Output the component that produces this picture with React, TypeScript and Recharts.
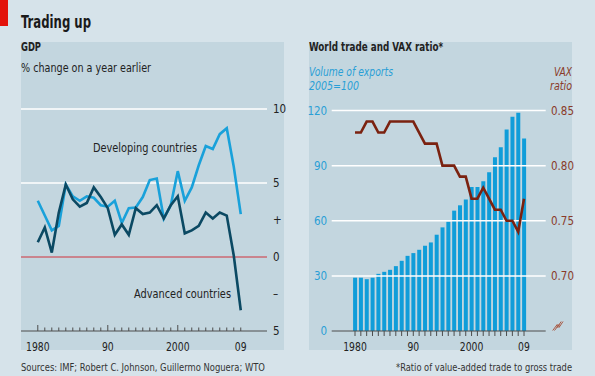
import { ComposedChart, LineChart, Line, Bar, XAxis, YAxis, ReferenceLine } from 'recharts';

// years shared by both panels
const years = [
  1980, 1981, 1982, 1983, 1984, 1985, 1986, 1987, 1988, 1989,
  1990, 1991, 1992, 1993, 1994, 1995, 1996, 1997, 1998, 1999,
  2000, 2001, 2002, 2003, 2004, 2005, 2006, 2007, 2008, 2009,
];

// GDP, % change on a year earlier
const developingGdp = [
  3.8, 2.8, 1.8, 2.1, 4.9, 4.1, 3.8, 4.1, 4.0, 3.5,
  3.4, 3.8, 2.3, 3.3, 3.35, 4.05, 5.2, 5.3, 2.6, 3.5,
  5.8, 3.8, 4.7, 6.2, 7.5, 7.3, 8.3, 8.7, 6.1, 2.9,
];
const advancedGdp = [
  1.0, 2.0, 0.3, 3.0, 4.9, 3.9, 3.4, 3.65, 4.7, 4.05,
  3.3, 1.5, 2.2, 1.5, 3.3, 2.9, 3.0, 3.5, 2.6, 3.5,
  4.1, 1.6, 1.8, 2.1, 3.0, 2.6, 3.0, 2.8, 0.1, -3.6,
];

// world trade: volume of exports (2005=100) and VAX ratio
const exportVolume = [
  29, 29, 28.2, 29, 31.1, 32.2, 33.3, 35.3, 38.2, 40.9,
  42.4, 44.2, 46.4, 48.2, 52.4, 56.4, 59.5, 65.5, 68.4, 71.5,
  78.4, 78.4, 81.5, 86.4, 94.5, 100, 109.6, 116.6, 118.8, 104.7,
];
const vaxRatio = [
  0.83, 0.83, 0.84, 0.84, 0.83, 0.83, 0.84, 0.84, 0.84, 0.84,
  0.84, 0.83, 0.82, 0.82, 0.82, 0.8, 0.8, 0.8, 0.79, 0.79,
  0.77, 0.77, 0.78, 0.77, 0.76, 0.76, 0.75, 0.75, 0.74, 0.77,
];

const gdpTicks = [-5, -2.5, 0, 2.5, 5, 10];
const gdpGridLines = [5, 10];
const exportTicks = [0, 30, 60, 90, 120];
const exportGridLines = [30, 60, 90, 120];
const vaxTicks = [0.65, 0.7, 0.75, 0.8, 0.85];
const yearLabels: Record<number, string> = { 1980: '1980', 1990: '90', 2000: '2000', 2009: '09' };

const gdpData = years.map((year, i) => ({ year, developing: developingGdp[i], advanced: advancedGdp[i] }));
const tradeData = years.map((year, i) => ({ year, exports: exportVolume[i], vax: vaxRatio[i] }));

const FONT = "'Liberation Sans Narrow', 'DejaVu Sans Condensed', Roboto, sans-serif";
const BG = '#d6e3ea';
const PANEL = '#c3d6df';
const LIGHT_BLUE = '#19a1da';
const DARK_BLUE = '#0b4963';
const VAX_RED = '#7b2210';
const AXIS = '#4d4d4d';
const TEXT = '#222';
const EXPORT_TEXT = '#2a9fd6';
const VAX_TEXT = '#8a3a28';

function gdpLabel(v: number) {
  if (v === 2.5) return '+';
  if (v === -2.5) return '–';
  return String(Math.abs(v));
}

const GdpValueTick = (props: any) => {
  const { x, y, payload } = props;
  return (
    <text x={x + 6} y={y + 4} fontSize={11.5} fill={TEXT} fontFamily={FONT}>
      {gdpLabel(payload.value)}
    </text>
  );
};

const YearLabel = ({ x, y, yr }: { x: number; y: number; yr: number }) => {
  const label = yearLabels[yr];
  if (!label) return null;
  return (
    <text
      x={x}
      y={y}
      textAnchor="middle"
      fontSize={11.5}
      fill={TEXT}
      fontFamily={FONT}
      textLength={label.length * 5.9}
      lengthAdjust="spacingAndGlyphs"
    >
      {label}
    </text>
  );
};

const GdpYearTick = (props: any) => {
  const { x, y, payload } = props;
  const yr = payload.value;
  const major = yr % 10 === 0;
  return (
    <g>
      <line x1={x} x2={x} y1={y} y2={y - (major ? 6 : 3.5)} stroke={AXIS} strokeWidth={1} />
      <YearLabel x={x} y={y + 20} yr={yr} />
    </g>
  );
};

const TradeYearTick = (props: any) => {
  const { x, y, payload } = props;
  return (
    <g>
      <line x1={x} x2={x} y1={y} y2={y + 5} stroke={AXIS} strokeWidth={1} />
      <YearLabel x={x} y={y + 20} yr={payload.value} />
    </g>
  );
};

const ExportTick = (props: any) => {
  const { x, y, payload } = props;
  return (
    <text x={x - 4.5} y={y + 4} textAnchor="end" fontSize={11.5} fill={EXPORT_TEXT} fontFamily={FONT}>
      {payload.value}
    </text>
  );
};

const VaxTick = (props: any) => {
  const { x, y, payload } = props;
  if (payload.value === 0.65) {
    // axis break mark in place of the bottom label
    const bx = x + 7;
    const by = y - 0.5;
    return (
      <g stroke="#a85a45" strokeWidth={1} fill="none">
        <path d={`M${bx} ${by} L${bx + 4.5} ${by - 6} L${bx + 4.5} ${by - 3} L${bx + 8.5} ${by - 9}`} />
        <path d={`M${bx + 1.8} ${by} L${bx + 6.3} ${by - 6} L${bx + 6.3} ${by - 3} L${bx + 10.3} ${by - 9}`} />
      </g>
    );
  }
  return (
    <text x={x + 5.3} y={y + 4} fontSize={11.5} fill={VAX_TEXT} fontFamily={FONT}>
      {payload.value.toFixed(2)}
    </text>
  );
};

const Label = ({ x, y, w, children, ...rest }: any) => (
  <text x={x} y={y} textLength={w} lengthAdjust="spacingAndGlyphs" fontFamily={FONT} {...rest}>
    {children}
  </text>
);

export default function App() {
  return (
    <div style={{ position: 'absolute', left: 0, top: 0, width: 595, height: 376, background: BG, overflow: 'hidden' }}>
      <svg width={595} height={376} style={{ position: 'absolute', left: 0, top: 0 }}>
        <rect x={0} y={0} width={8} height={26} fill="#e3120b" />
        <rect x={21} y={42} width={263} height={308} fill={PANEL} />
        <rect x={309} y={42} width={263} height={308} fill={PANEL} />
        <Label x={21} y={27.5} w={70} fontSize={17} fontWeight={700} fill="#1a1a1a">Trading up</Label>
        <Label x={21} y={51} w={20} fontSize={11.5} fontWeight={700} fill={TEXT}>GDP</Label>
        <Label x={21} y={72} w={130} fontSize={11.5} fill={TEXT}>% change on a year earlier</Label>
        <Label x={309} y={51} w={134} fontSize={11.5} fontWeight={700} fill={TEXT}>World trade and VAX ratio*</Label>
        <Label x={309} y={76} w={84} fontSize={11.5} fontStyle="italic" fill={EXPORT_TEXT}>Volume of exports</Label>
        <Label x={309} y={90} w={50} fontSize={11.5} fontStyle="italic" fill={EXPORT_TEXT}>2005=100</Label>
        <Label x={554} y={76} w={18} fontSize={11.5} fontStyle="italic" fill={VAX_TEXT}>VAX</Label>
        <Label x={550} y={90} w={22} fontSize={11.5} fontStyle="italic" fill={VAX_TEXT}>ratio</Label>
        <Label x={21} y={370.5} w={244} fontSize={11} fill="#333">Sources: IMF; Robert C. Johnson, Guillermo Noguera; WTO</Label>
        <Label x={396} y={370.5} w={176} fontSize={11} fill="#333">*Ratio of value-added trade to gross trade</Label>
      </svg>

      <div style={{ position: 'absolute', left: 0, top: 0 }}>
        <LineChart width={300} height={376} data={gdpData} margin={{ top: 109, right: 0, bottom: 15, left: 21 }}>
          <XAxis
            dataKey="year"
            type="number"
            domain={[1977.6, 2012.75]}
            ticks={years}
            interval={0}
            tickSize={0}
            tickMargin={0}
            height={30}
            axisLine={{ stroke: AXIS, strokeWidth: 1 }}
            tickLine={false}
            tick={(p: any) => <GdpYearTick {...p} />}
          />
          <YAxis
            orientation="right"
            domain={[-5, 10]}
            ticks={gdpTicks}
            interval={0}
            width={33}
            tickSize={0}
            tickMargin={0}
            axisLine={false}
            tickLine={false}
            tick={(p: any) => <GdpValueTick {...p} />}
          />
          {gdpGridLines.map((v) => (
            <ReferenceLine key={v} y={v} stroke="#ffffff" strokeWidth={1.5} />
          ))}
          <ReferenceLine y={0} stroke="#d0323c" strokeWidth={1} />
          <Line type="linear" dataKey="developing" stroke={LIGHT_BLUE} strokeWidth={2.6} dot={false} isAnimationActive={false} />
          <Line type="linear" dataKey="advanced" stroke={DARK_BLUE} strokeWidth={2.6} dot={false} isAnimationActive={false} />
          <Label x={93} y={151.5} w={104} fontSize={11.5} fill={TEXT}>Developing countries</Label>
          <Label x={134} y={298} w={97} fontSize={11.5} fill={TEXT}>Advanced countries</Label>
        </LineChart>
      </div>

      <div style={{ position: 'absolute', left: 300, top: 0 }}>
        <ComposedChart width={295} height={376} data={tradeData} margin={{ top: 110.5, right: 0, bottom: 15, left: 0 }}>
          <XAxis
            dataKey="year"
            type="number"
            domain={[1976, 2012.72]}
            ticks={years}
            interval={0}
            tickSize={0}
            tickMargin={0}
            height={30}
            axisLine={{ stroke: AXIS, strokeWidth: 1 }}
            tickLine={false}
            tick={(p: any) => <TradeYearTick {...p} />}
          />
          <YAxis
            yAxisId="exports"
            orientation="left"
            domain={[0, 120]}
            ticks={exportTicks}
            interval={0}
            width={31.7}
            tickSize={0}
            tickMargin={0}
            axisLine={false}
            tickLine={false}
            tick={(p: any) => <ExportTick {...p} />}
          />
          <YAxis
            yAxisId="vax"
            orientation="right"
            domain={[0.65, 0.85]}
            ticks={vaxTicks}
            interval={0}
            width={49.3}
            tickSize={0}
            tickMargin={0}
            axisLine={false}
            tickLine={false}
            tick={(p: any) => <VaxTick {...p} />}
          />
          {exportGridLines.map((v) => (
            <ReferenceLine key={v} yAxisId="exports" y={v} stroke="#ffffff" strokeWidth={1.5} />
          ))}
          <Bar yAxisId="exports" dataKey="exports" fill="#109dd9" barSize={4} isAnimationActive={false} />
          <Line yAxisId="vax" type="linear" dataKey="vax" stroke={VAX_RED} strokeWidth={2.6} dot={false} isAnimationActive={false} />
        </ComposedChart>
      </div>
    </div>
  );
}
